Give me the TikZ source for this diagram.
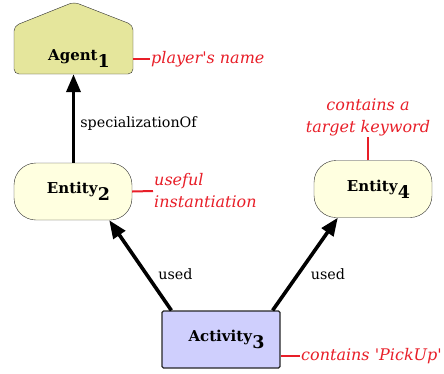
\documentclass[tikz,border=0pt]{standalone}
\usepackage{fontspec}
\setmainfont{DejaVu Serif}
\usepackage{xcolor}
\usetikzlibrary{arrows.meta}
\definecolor{agentfill}{RGB}{229,230,156}
\definecolor{entityfill}{RGB}{255,255,224}
\definecolor{activityfill}{RGB}{207,207,253}
\definecolor{notered}{RGB}{232,30,40}
\definecolor{boxline}{RGB}{45,45,45}

\newcommand{\provname}[2]{\hspace*{11pt}\textbf{#1}\raisebox{-7pt}{\fontsize{17.5}{17.5}\selectfont\textbf{#2}}}

\tikzset{
  agentbox/.style={minimum width=119pt, minimum height=49pt, inner sep=0pt},
  entitybox/.style={draw=boxline, fill=entityfill, rounded corners=22pt, minimum width=118pt, minimum height=57pt, inner sep=0pt},
  activitybox/.style={draw=black!85, line width=1.3pt, fill=activityfill, rounded corners=1.5pt, minimum width=118pt, minimum height=57pt, inner sep=0pt},
  provarrow/.style={line width=3.6pt, -{Triangle[length=18pt,width=14pt]}},
  edgelabel/.style={font=\fontsize{14.3}{16}\selectfont, inner sep=1pt},
  note/.style={text=notered, font=\fontsize{16}{22}\selectfont\itshape, inner sep=1pt, align=left},
  notetick/.style={draw=notered, line width=2pt}
}

\begin{document}
\begin{tikzpicture}[x=1pt, y=-1pt, font=\fontsize{15}{17}\selectfont]
    \useasboundingbox (0,0) rectangle (444,373);

    % Agent (house shape)
    \filldraw[draw=boxline, fill=agentfill, rounded corners=5pt] (14,74) -- (14,26) -- (74,2) -- (133,25) -- (133,74) -- cycle;
    \node[agentbox, label={[yshift=-9pt]center:\provname{Agent}{1}}] (agent) at (73.5,49.5) {};

    % Entities and activity
    \node[entitybox] (ent2) at (73,191.5) {\provname{Entity}{2}};
    \node[entitybox] (ent4) at (373,189) {\provname{Entity}{4}};
    \node[activitybox] (act3) at (221,339.5) {\provname{Activity}{3}};

    % Relations
    \draw[provarrow] (ent2.north -| agent.south) -- (agent.south)
        node[edgelabel, pos=0.44, right=4pt] {specializationOf};
    \draw[provarrow] ([xshift=10pt]act3.north west) -- ([xshift=-23pt]ent2.south east)
        node[edgelabel, pos=0.4, right=9pt] {used};
    \draw[provarrow] ([xshift=-8pt]act3.north east) -- ([xshift=24pt]ent4.south west)
        node[edgelabel, pos=0.39, right=10pt] {used};

    % Notes
    \node[note, anchor=west] (note1) at (150,59) {player\textquotesingle s name};
    \node[note, anchor=west] (note2) at (153,191) {useful\\instantiation};
    \node[note, anchor=south, align=center] (note4) at (368,137) {contains a\\target keyword};
    \node[note, anchor=west] (note3) at (300,356) {contains \textquotesingle PickUp\textquotesingle};
    \draw[notetick] ([yshift=-9.5pt]agent.east) -- (note1.west);
    \draw[notetick] (ent2.east) -- (note2.west);
    \draw[notetick] ([xshift=-5pt]ent4.north) -- (note4.south);
    \draw[notetick] ([yshift=-16.5pt]act3.east) -- (note3.west);
\end{tikzpicture}
\end{document}
